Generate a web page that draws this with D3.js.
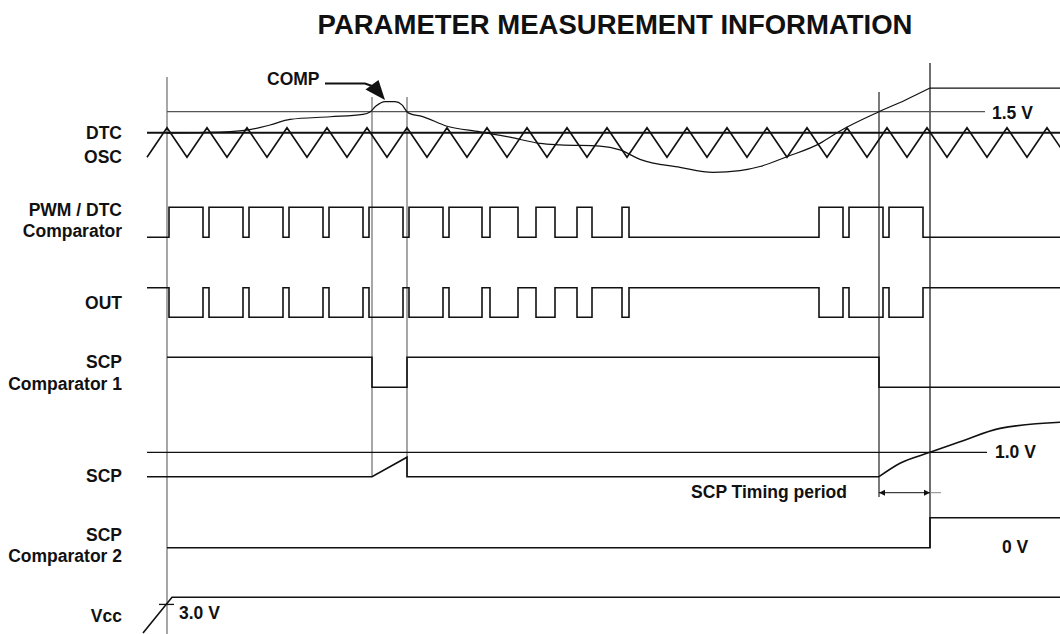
<!DOCTYPE html>
<html>
<head>
<meta charset="utf-8">
<script src="https://cdn.jsdelivr.net/npm/d3@7"></script>
<style>
  body { margin: 0; background: #fff; }
  text { font-family: Arial, "Liberation Sans", sans-serif; font-weight: bold; fill: #111; }
</style>
</head>
<body>
<svg id="chart" width="1060" height="634"></svg>
<script>
// ---- data (time in oscillator periods, levels in arbitrary units / volts) ----
const title = "PARAMETER MEASUREMENT INFORMATION";
const signalNames = ["DTC", "OSC", "PWM / DTC", "Comparator", "OUT", "SCP", "Comparator 1", "SCP", "SCP", "Comparator 2", "Vcc"];
const valueLabels = ["1.5 V", "1.0 V", "0 V", "3.0 V"];
const compLabel = "COMP";
const timingLabel = "SCP Timing period";

// oscillator triangle: turning points
const oscTimes = [-0.5, 0, 0.5, 1, 1.5, 2, 2.5, 3, 3.5, 4, 4.5, 5, 5.5, 6, 6.5, 7, 7.5, 8, 8.5, 9, 9.5, 10, 10.5,
  11, 11.5, 12, 12.5, 13, 13.5, 14, 14.5, 15, 15.5, 16, 16.5, 17, 17.5, 18, 18.5, 19, 19.5, 20, 20.5, 21, 21.5, 22, 22.5];
const oscLevels = [0, 1, 0, 1, 0, 1, 0, 1, 0, 1, 0, 1, 0, 1, 0, 1, 0, 1, 0, 1, 0, 1, 0,
  1, 0, 1, 0, 1, 0, 1, 0, 1, 0, 1, 0, 1, 0, 1, 0, 1, 0, 1, 0, 1, 0, 1, 0];
const dtcLevel = 0.83;
const refLevel15 = 1.54;

// COMP voltage
const compTimes = [0, 1, 2, 2.575, 3.075, 4.075, 4.9, 5.075, 5.225, 5.45, 5.7, 5.875, 6.0, 6.125, 6.325, 7.0, 7.825,
  8.575, 9.325, 9.825, 10.825, 11.325, 11.825, 12.825, 13.65, 14.325, 14.825, 15.5, 16.325, 16.825, 17.8, 18.45, 19.075];
const compLevels = [0.82, 0.84, 0.92, 1.09, 1.28, 1.37, 1.45, 1.53, 1.73, 1.88, 1.88, 1.77, 1.54, 1.45, 1.40, 1.05, 0.86,
  0.68, 0.47, 0.42, 0.38, 0.25, -0.07, -0.34, -0.51, -0.45, -0.31, 0.02, 0.47, 0.89, 1.54, 1.93, 2.34];
const compHoldEnd = 22.4;

// PWM / DTC comparator pulses (high between rise and fall); OUT is the inverse
const pwmRise = [0.05, 1.05, 2.05, 3.05, 4.05, 5.05, 6.05, 7.05, 8.075, 9.225, 10.25, 11.375, 16.3, 17.05, 18.05];
const pwmFall = [0.9, 1.9, 2.9, 3.9, 4.9, 5.9, 6.9, 7.875, 8.775, 9.7, 10.625, 11.55, 16.9, 17.9, 18.9];

// SCP comparator 1 (1 = high)
const comp1Times = [0, 5.125, 5.125, 6.0, 6.0, 17.8, 17.8, 22.4];
const comp1Levels = [1, 1, 0, 0, 1, 1, 0, 0];

// SCP voltage
const scpTimes = [-0.5, 5.125, 6.0, 6.0, 17.8];
const scpLevels = [0, 0, 0.8, 0, 0];
const scpChargeTimes = [17.8, 18.325, 19.075, 19.825, 20.825, 22.4];
const scpChargeLevels = [0, 0.55, 1.0, 1.43, 1.98, 2.24];
const refLevel10 = 1.0;

// SCP comparator 2
const comp2Times = [0, 19.075, 19.075, 22.4];
const comp2Levels = [0, 0, 1, 1];

// Vcc
const vccTimes = [-0.6, 0.125, 22.4];
const vccLevels = [0.59, 3.6, 3.6];
const vccMark = 3.0;

// timing markers
const guideTimes = [0, 5.125, 6.0, 17.8, 19.075];

// ---- drawing ----
const svg = d3.select("#chart");

const x = d3.scaleLinear().domain([0, 22]).range([167, 1047]);
const yOsc = d3.scaleLinear().domain([0, 1]).range([157.3, 127.7]);
const yPwm = d3.scaleLinear().domain([0, 1]).range([237.3, 207.3]);
const yOut = d3.scaleLinear().domain([0, 1]).range([317.3, 287.7]);
const yC1 = d3.scaleLinear().domain([0, 1]).range([387.3, 357.3]);
const yScp = d3.scaleLinear().domain([0, 1]).range([476.7, 452.3]);
const yC2 = d3.scaleLinear().domain([0, 1]).range([547.7, 517.7]);
const yVcc = d3.scaleLinear().domain([0, 3.6]).range([640, 597.3]);

const zip = (a, b) => a.map((v, i) => [v, b[i]]);
const lineFor = (ys, curve) => d3.line().x(d => x(d[0])).y(d => ys(d[1])).curve(curve || d3.curveLinear);

function signal(pts, ys, curve, w, color) {
  svg.append("path")
    .attr("d", lineFor(ys, curve)(pts))
    .attr("fill", "none")
    .attr("stroke", color || "#111")
    .attr("stroke-width", w || 1.6)
    .attr("stroke-linejoin", "miter");
}

// title
svg.append("text").attr("x", 615).attr("y", 34).attr("text-anchor", "middle")
  .style("font-size", "27.5px").text(title);

// vertical guides
const guideSpan = [[77, 634, "#777"], [97, 477, "#777"], [97, 477, "#777"], [92, 497, "#333"], [63, 548, "#222"]];
guideTimes.forEach((t, i) => {
  svg.append("line")
    .attr("x1", x(t)).attr("x2", x(t))
    .attr("y1", guideSpan[i][0]).attr("y2", guideSpan[i][1])
    .attr("stroke", guideSpan[i][2]).attr("stroke-width", 1.3);
});

// reference lines
svg.append("line").attr("x1", x(0)).attr("x2", x(20.45))
  .attr("y1", yOsc(refLevel15)).attr("y2", yOsc(refLevel15))
  .attr("stroke", "#555").attr("stroke-width", 1.3);
svg.append("line").attr("x1", x(-0.5)).attr("x2", 1060)
  .attr("y1", yOsc(dtcLevel)).attr("y2", yOsc(dtcLevel))
  .attr("stroke", "#111").attr("stroke-width", 2);
svg.append("line").attr("x1", x(-0.5)).attr("x2", x(20.5))
  .attr("y1", yScp(refLevel10)).attr("y2", yScp(refLevel10))
  .attr("stroke", "#111").attr("stroke-width", 1.3);

// OSC
signal(zip(oscTimes, oscLevels), yOsc, null, 1.6);

// COMP
signal(zip(compTimes, compLevels), yOsc, d3.curveMonotoneX, 1.2);
signal([[compTimes[compTimes.length - 1], compLevels[compLevels.length - 1]], [compHoldEnd, compLevels[compLevels.length - 1]]], yOsc, null, 1.2);

// PWM and OUT step waveforms
function steps(hi, lo) {
  const pts = [[-0.5, lo]];
  pwmRise.forEach((r, i) => {
    pts.push([r, lo], [r, hi], [pwmFall[i], hi], [pwmFall[i], lo]);
  });
  pts.push([22.4, lo]);
  return pts;
}
signal(steps(1, 0), yPwm);
signal(steps(0, 1), yOut);

// SCP comparator 1
signal(zip(comp1Times, comp1Levels), yC1);

// SCP
signal(zip(scpTimes, scpLevels), yScp);
signal(zip(scpChargeTimes, scpChargeLevels), yScp, d3.curveMonotoneX);

// SCP comparator 2
signal(zip(comp2Times, comp2Levels), yC2);

// Vcc
signal(zip(vccTimes, vccLevels), yVcc);
svg.append("line").attr("x1", x(-0.2)).attr("x2", x(0.175))
  .attr("y1", yVcc(vccMark)).attr("y2", yVcc(vccMark))
  .attr("stroke", "#111").attr("stroke-width", 1.3);

// signal labels (right aligned)
const labelBase = [138.5, 163, 216, 237, 309, 368, 390, 481.5, 540.5, 561.5, 621.5];
svg.selectAll("text.sig").data(signalNames).enter().append("text")
  .attr("class", "sig")
  .attr("x", 122).attr("y", (d, i) => labelBase[i])
  .attr("text-anchor", "end")
  .style("font-size", "17.5px")
  .text(d => d);

// value labels
const valuePos = [[992, 118.5], [995, 458], [1002, 553], [179, 618.5]];
valueLabels.forEach((v, i) => {
  svg.append("text").attr("x", valuePos[i][0]).attr("y", valuePos[i][1])
    .style("font-size", "17.5px").text(v);
});

// COMP annotation with arrow
svg.append("text").attr("x", 267).attr("y", 85).style("font-size", "17.5px").text(compLabel);
svg.append("path").attr("d", "M325,83.5 L365,83.5 L372,86")
  .attr("fill", "none").attr("stroke", "#111").attr("stroke-width", 2.2);
svg.append("path").attr("d", "M365.5,89.5 L378.5,80 L385,100 Z").attr("fill", "#111");

// SCP timing period arrow
const ta = 492.7;
svg.append("line").attr("x1", x(17.8)).attr("x2", x(19.075)).attr("y1", ta).attr("y2", ta)
  .attr("stroke", "#111").attr("stroke-width", 1);
svg.append("line").attr("x1", x(19.075)).attr("x2", x(19.35)).attr("y1", ta).attr("y2", ta)
  .attr("stroke", "#888").attr("stroke-width", 1);
svg.append("path").attr("d", `M${x(17.8)},${ta} l6,-3 l0,6 Z`).attr("fill", "#111");
svg.append("path").attr("d", `M${x(19.075)},${ta} l-6,-3 l0,6 Z`).attr("fill", "#111");
svg.append("text").attr("x", 847).attr("y", 498).attr("text-anchor", "end")
  .style("font-size", "17.5px").text(timingLabel);
</script>
</body>
</html>
